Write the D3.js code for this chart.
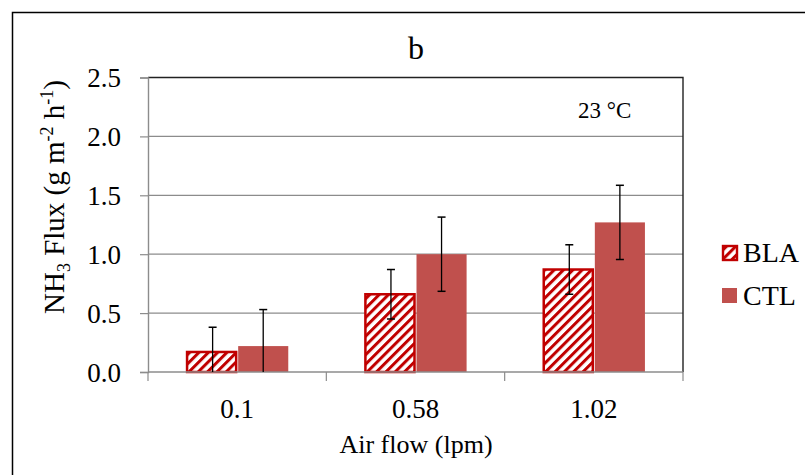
<!DOCTYPE html>
<html>
<head>
<meta charset="utf-8">
<script src="https://cdn.jsdelivr.net/npm/d3@7"></script>
<style>
  html, body { margin: 0; padding: 0; background: #fff; }
  svg { display: block; }
  svg text { font-family: "Liberation Serif", "Times New Roman", serif !important; fill: #000; }
</style>
</head>
<body>
<svg id="chart" width="805" height="475"></svg>
<script>
// ---- data ----
const categories = ["0.1", "0.58", "1.02"];
const seriesNames = ["BLA", "CTL"];
const blaValues = [0.17, 0.66, 0.87];
const ctlValues = [0.22, 1.00, 1.27];
const blaErrors = [0.21, 0.21, 0.21];
const ctlErrors = [0.31, 0.315, 0.315];
const yTicks = [0, 0.5, 1.0, 1.5, 2.0, 2.5];

const svg = d3.select("#chart");
const plot = { left: 148, right: 683, top: 77.5, bottom: 372 };
const FONT = "Liberation Serif";

const red = "#C00000";
const ctlColor = "#C0504D";

// pattern
const defs = svg.append("defs");
const pat = defs.append("pattern")
  .attr("id", "hatch")
  .attr("patternUnits", "userSpaceOnUse")
  .attr("width", 6.6).attr("height", 6.6)
  .attr("patternTransform", "rotate(45)");
pat.append("rect").attr("width", 6.6).attr("height", 6.6).attr("fill", "#fff");
pat.append("rect").attr("x", 0).attr("width", 3).attr("height", 6.6).attr("fill", red);

// outer border
svg.append("rect")
  .attr("x", 12.5).attr("y", 12.5).attr("width", 820).attr("height", 500)
  .attr("fill", "none").attr("stroke", "#000").attr("stroke-width", 1.5);

const x0 = d3.scaleBand().domain(categories).range([plot.left, plot.right]).padding(0);
const x1 = d3.scaleBand().domain(seriesNames).range([0, x0.bandwidth()]).paddingInner(0).paddingOuter(0.745);
const y = d3.scaleLinear().domain([0, 2.5]).range([plot.bottom, plot.top]);

// gridlines
svg.append("g").selectAll("line").data(yTicks.filter(d => d > 0 && d < 2.5)).join("line")
  .attr("x1", plot.left).attr("x2", plot.right)
  .attr("y1", d => y(d)).attr("y2", d => y(d))
  .attr("stroke", "#8c8c8c").attr("stroke-width", 1.2);

// plot border top & right
svg.append("path")
  .attr("d", `M${plot.left},${y(2.5)}H${plot.right}V${plot.bottom}`)
  .attr("fill", "none").attr("stroke", "#222").attr("stroke-width", 1.4);

// y axis
const yAxis = d3.axisLeft(y).tickValues(yTicks).tickFormat(d3.format(".1f")).tickSize(8).tickPadding(19);
const gy = svg.append("g").attr("transform", `translate(${plot.left},0)`).call(yAxis)
  .attr("font-family", FONT).attr("font-size", 27);
gy.select(".domain").attr("stroke", "#8c8c8c").attr("stroke-width", 1.4);
gy.selectAll(".tick line").attr("stroke", "#8c8c8c").attr("stroke-width", 1.2);
gy.selectAll(".tick text").style("font-family", FONT).style("font-size", "27px").attr("fill", "#000").attr("dy", "0.34em");

// bars
const groups = svg.append("g").selectAll("g").data(categories).join("g")
  .attr("transform", d => `translate(${x0(d)},0)`);

groups.append("rect")
  .attr("x", () => x1("BLA") + 1)
  .attr("width", x1.bandwidth() - 2)
  .attr("y", (d, i) => y(blaValues[i]))
  .attr("height", (d, i) => y(0) - y(blaValues[i]))
  .attr("fill", "url(#hatch)")
  .attr("stroke", red).attr("stroke-width", 2.5);

groups.append("rect")
  .attr("x", () => x1("CTL") + 1)
  .attr("width", x1.bandwidth() - 1)
  .attr("y", (d, i) => y(ctlValues[i]))
  .attr("height", (d, i) => y(0) - y(ctlValues[i]))
  .attr("fill", ctlColor);

// x axis
const xAxisLine = svg.append("g");
xAxisLine.append("line")
  .attr("x1", plot.left).attr("x2", plot.right)
  .attr("y1", plot.bottom).attr("y2", plot.bottom)
  .attr("stroke", "#8c8c8c").attr("stroke-width", 1.6);
const bounds = categories.map(c => x0(c)).concat([x0(categories[categories.length - 1]) + x0.bandwidth()]);
xAxisLine.selectAll("line.tk").data(bounds).join("line").attr("class", "tk")
  .attr("x1", d => d).attr("x2", d => d)
  .attr("y1", plot.bottom).attr("y2", plot.bottom + 9)
  .attr("stroke", "#8c8c8c").attr("stroke-width", 1.2);
xAxisLine.selectAll("text").data(categories).join("text")
  .attr("x", d => x0(d) + x0.bandwidth() / 2)
  .attr("y", 418)
  .attr("text-anchor", "middle")
  .style("font-size", "27px")
  .text(d => d);

// error bars
function errBar(g, cx, v, e) {
  const top = y(v + e), bot = y(Math.max(0, v - e));
  g.append("line").attr("x1", cx).attr("x2", cx).attr("y1", top).attr("y2", bot)
    .attr("stroke", "#000").attr("stroke-width", 1.3);
  g.append("line").attr("x1", cx - 4).attr("x2", cx + 4).attr("y1", top).attr("y2", top)
    .attr("stroke", "#000").attr("stroke-width", 1.5);
  if (v - e > 0) {
    g.append("line").attr("x1", cx - 4).attr("x2", cx + 4).attr("y1", bot).attr("y2", bot)
      .attr("stroke", "#000").attr("stroke-width", 1.5);
  }
}
const eg = svg.append("g");
categories.forEach((c, i) => {
  errBar(eg, x0(c) + x1("BLA") + x1.bandwidth() / 2 + 1, blaValues[i], blaErrors[i]);
  errBar(eg, x0(c) + x1("CTL") + x1.bandwidth() / 2 + 0.5, ctlValues[i], ctlErrors[i]);
});

// title
svg.append("text").attr("x", 416).attr("y", 59).attr("text-anchor", "middle")
  .style("font-size", "32px").text("b");

// annotation
svg.append("text").attr("x", 578).attr("y", 118).style("font-size", "23px").text("23 °C");

// x title
svg.append("text").attr("x", 416).attr("y", 453).attr("text-anchor", "middle")
  .style("font-size", "26px").text("Air flow (lpm)");

// y title
const yt = svg.append("text")
  .attr("transform", "translate(64,197) rotate(-90)")
  .attr("text-anchor", "middle")
  .style("font-size", "29px");
yt.append("tspan").text("NH");
yt.append("tspan").style("font-size", "18px").attr("dy", 6).text("3");
yt.append("tspan").attr("dy", -6).text(" Flux (g m");
yt.append("tspan").style("font-size", "18px").attr("dy", -11).text("-2");
yt.append("tspan").attr("dy", 11).text(" h");
yt.append("tspan").style("font-size", "18px").attr("dy", -11).text("-1");
yt.append("tspan").attr("dy", 11).text(")");

// legend
const legend = svg.append("g");
legend.append("rect").attr("x", 723).attr("y", 246).attr("width", 14).attr("height", 14)
  .attr("fill", "url(#hatch)").attr("stroke", red).attr("stroke-width", 2.4);
legend.append("text").attr("x", 743).attr("y", 262).style("font-size", "28px").text(seriesNames[0]);
legend.append("rect").attr("x", 722).attr("y", 288).attr("width", 15).attr("height", 15)
  .attr("fill", ctlColor);
legend.append("text").attr("x", 743).attr("y", 305).style("font-size", "28px").text(seriesNames[1]);
</script>
</body>
</html>
